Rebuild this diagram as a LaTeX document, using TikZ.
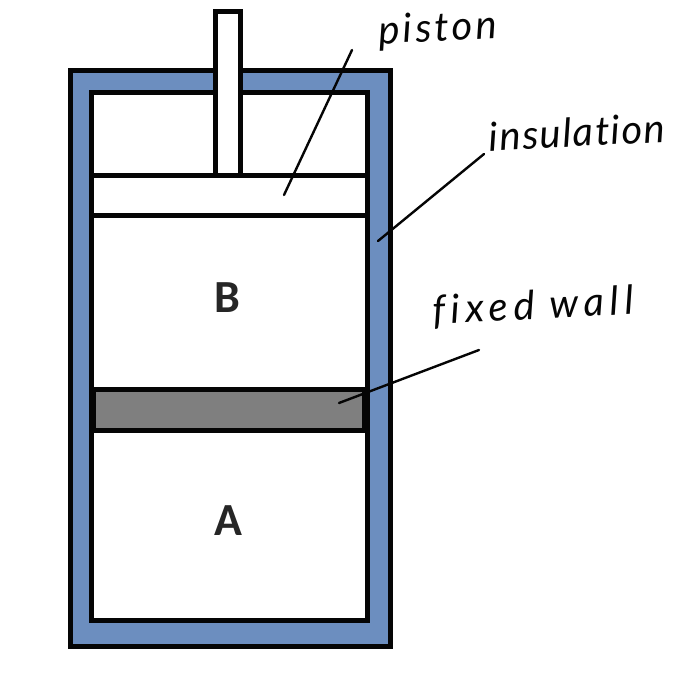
\documentclass[tikz,border=0pt]{standalone}
\usepackage{fontspec}
\setmainfont{Carlito}
\newfontfamily\handfont[Ligatures=NoCommon]{Lato}
\definecolor{insul}{HTML}{6C8EBF}
\definecolor{wallgray}{HTML}{7F7F7F}
\definecolor{ink}{HTML}{050505}
\tikzset{
  x=1pt,y=-1pt,
  part/.style={draw=ink,line width=5pt,line join=miter},
  letterlabel/.style={font=\fontsize{46}{46}\selectfont\bfseries,text=black!85,inner sep=0pt},
  hand/.style={font=\handfont\itshape\fontsize{40}{40}\selectfont,text=ink,inner sep=0pt},
  leader/.style={draw=ink,line width=2.4pt,line cap=round}
}
\begin{document}
\begin{tikzpicture}
\useasboundingbox[fill=white] (0,0) rectangle (700,700);
% insulated cylinder
\draw[part,fill=insul] (70.5,70.5) rectangle (390.5,646);
\draw[part,fill=white] (91.5,92.5) rectangle (367.5,620);
% piston
\draw[part,fill=white] (91.5,175.5) rectangle (367.5,215.5);
\draw[part,fill=white] (215.5,11.5) rectangle (240.5,175.5);
% fixed wall
\draw[part,fill=wallgray] (93.5,389.5) rectangle (364.5,430.5);
% chamber labels
\node[letterlabel] (B) at (227,298) {B};
\node[letterlabel] (A) at (228,521) {A};
% handwritten labels
\node[hand,rotate=3] (pistonlabel) at (438,30) {\addfontfeature{LetterSpace=8}piston};
\node[hand,rotate=3] (insulationlabel) at (577,132) {\addfontfeature{LetterSpace=4}insulation};
\node[hand,rotate=3] (fixedlabel) at (533,307) {\addfontfeature{LetterSpace=14}fixed wall};
% leaders
\coordinate (ps) at (352,50);
\coordinate (pe) at (284,195);
\coordinate (is) at (484,154);
\coordinate (ie) at (378,241);
\coordinate (fs) at (479,350);
\coordinate (fe) at (339,403);
\draw[leader] (ps) -- (pe);
\draw[leader] (is) -- (ie);
\draw[leader] (fs) -- (fe);
\end{tikzpicture}
\end{document}
